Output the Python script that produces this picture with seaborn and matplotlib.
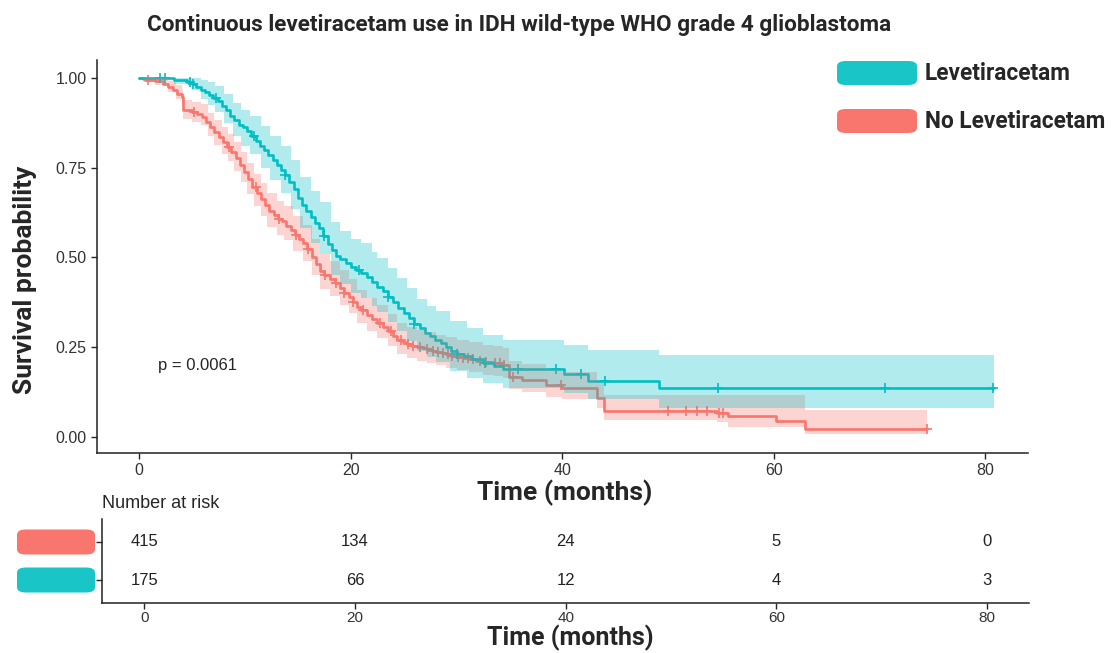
import numpy as np
import matplotlib
matplotlib.use("Agg")
import matplotlib.pyplot as plt
from matplotlib.patches import FancyBboxPatch
import seaborn as sns

# Levetiracetam group: step curve
lev_time = [0, 3.3, 4.5, 5.0, 5.4, 5.8, 6.2, 6.6, 7.0, 7.4, 7.8, 8.2, 8.6, 9.0, 9.4, 9.8, 10.2,
            10.6, 11.0, 11.4, 11.8, 12.2, 12.6, 13.0, 13.4, 13.8, 14.2, 14.6, 15.0, 15.4, 15.8,
            16.2, 16.6, 17.0, 17.4, 17.8, 18.2, 18.6, 19.0, 19.5, 20.0, 20.5, 21.0, 21.5, 22.0,
            22.5, 23.0, 23.5, 24.0, 24.5, 25.0, 25.5, 26.0, 26.5, 27.0, 27.5, 28.0, 28.5, 29.0,
            29.5, 30.0, 30.7, 31.5, 32.5, 33.5, 34.4, 40.2, 42.4, 49.1, 80.8]
lev_surv = [1.0, 0.994, 0.988, 0.982, 0.975, 0.967, 0.96, 0.953, 0.945, 0.935, 0.922, 0.91, 0.895,
            0.882, 0.87, 0.862, 0.852, 0.838, 0.825, 0.81, 0.798, 0.785, 0.772, 0.758, 0.744, 0.728,
            0.71, 0.69, 0.665, 0.645, 0.628, 0.612, 0.597, 0.582, 0.56, 0.538, 0.52, 0.505, 0.495,
            0.485, 0.474, 0.466, 0.457, 0.445, 0.432, 0.418, 0.405, 0.39, 0.375, 0.36, 0.345, 0.33,
            0.315, 0.302, 0.29, 0.28, 0.271, 0.262, 0.25, 0.24, 0.232, 0.225, 0.218, 0.206, 0.197,
            0.189, 0.175, 0.156, 0.136, 0.136]
# Levetiracetam group: 95% band
lev_band_time = [0, 3.3, 5.0, 5.8, 6.5, 7.2, 8.0, 8.9, 9.6, 10.5, 11.5, 12.4, 13.4, 14.3, 15.2, 16.2,
                 17.1, 18.1, 19.0, 20.0, 21.0, 22.0, 22.5, 23.5, 24.4, 25.3, 26.3, 27.2, 28.1, 29.4,
                 31.0, 32.5, 34.4, 40.2, 42.4, 49.1, 80.8]
lev_upper = [1.0, 1.0, 1.0, 0.995, 0.988, 0.976, 0.955, 0.93, 0.91, 0.895, 0.866, 0.838, 0.81, 0.77,
             0.725, 0.685, 0.655, 0.598, 0.573, 0.552, 0.54, 0.515, 0.498, 0.47, 0.442, 0.415, 0.385,
             0.365, 0.35, 0.322, 0.302, 0.285, 0.27, 0.256, 0.242, 0.228, 0.228]
lev_lower = [1.0, 0.982, 0.967, 0.94, 0.924, 0.905, 0.875, 0.838, 0.81, 0.788, 0.75, 0.715, 0.68, 0.635,
             0.583, 0.54, 0.51, 0.452, 0.425, 0.402, 0.388, 0.365, 0.348, 0.32, 0.294, 0.268, 0.24,
             0.222, 0.208, 0.182, 0.165, 0.15, 0.135, 0.122, 0.105, 0.081, 0.081]
lev_censor = [2.0, 2.4, 4.8, 5.1, 7.3, 10.8, 13.8, 17.5, 20.8, 23.5, 26.0, 30.0, 32.7, 35.8,
              39.4, 41.8, 44.0, 54.7, 70.5, 80.7]

# No Levetiracetam group: step curve
nolev_time = [0, 0.5, 1.5, 2.2, 2.7, 3.2, 3.6, 4.0, 4.1, 5.0, 5.5, 5.9, 6.3, 6.7, 7.1, 7.5, 7.9, 8.3,
              8.7, 9.1, 9.5, 9.9, 10.3, 10.7, 11.1, 11.5, 11.9, 12.3, 12.7, 13.1, 13.5, 13.9, 14.3,
              14.7, 15.1, 15.5, 15.9, 16.3, 16.7, 17.1, 17.5, 18.0, 18.5, 19.0, 19.4, 19.8, 20.2,
              20.6, 21.0, 21.5, 22.0, 22.5, 23.0, 23.5, 24.0, 24.4, 24.9, 25.3, 25.8, 26.3, 26.8,
              27.2, 27.7, 28.1, 28.6, 29.0, 29.5, 30.0, 30.6, 31.2, 31.8, 32.5, 33.5, 34.4, 35.0,
              36.2, 38.5, 40.0, 43.3, 43.9, 54.6, 55.7, 60.2, 62.9, 74.5]
nolev_surv = [1.0, 0.995, 0.99, 0.982, 0.975, 0.965, 0.955, 0.947, 0.911, 0.905, 0.9, 0.892, 0.878,
              0.864, 0.848, 0.835, 0.822, 0.808, 0.793, 0.776, 0.757, 0.738, 0.717, 0.695, 0.678,
              0.662, 0.645, 0.628, 0.618, 0.608, 0.6, 0.588, 0.575, 0.562, 0.551, 0.54, 0.522, 0.502,
              0.482, 0.463, 0.45, 0.44, 0.428, 0.415, 0.402, 0.39, 0.376, 0.362, 0.352, 0.34, 0.329,
              0.318, 0.306, 0.295, 0.282, 0.27, 0.263, 0.258, 0.254, 0.251, 0.247, 0.244, 0.24,
              0.237, 0.233, 0.23, 0.226, 0.223, 0.219, 0.216, 0.212, 0.209, 0.205, 0.201, 0.167,
              0.159, 0.145, 0.136, 0.109, 0.072, 0.065, 0.058, 0.045, 0.022, 0.022]
# No Levetiracetam group: 95% band
nolev_band_time = [0, 0.5, 1.5, 2.7, 3.5, 4.0, 4.1, 5.0, 5.8, 6.5, 7.1, 7.8, 8.4, 9.0, 9.6, 10.2, 10.8,
                   11.5, 12.1, 13.0, 13.7, 14.5, 15.5, 16.3, 17.1, 18.0, 19.0, 19.8, 20.6, 21.5, 22.5,
                   23.5, 24.4, 25.3, 26.3, 27.2, 28.1, 29.0, 30.0, 31.2, 32.5, 33.5, 34.4, 35.0, 36.2,
                   38.5, 40.0, 43.3, 43.9, 54.6, 55.7, 60.2, 62.9, 74.5]
nolev_upper = [1.0, 1.0, 0.999, 0.99, 0.979, 0.968, 0.939, 0.933, 0.926, 0.903, 0.882, 0.862, 0.843,
               0.82, 0.794, 0.764, 0.733, 0.706, 0.679, 0.658, 0.643, 0.616, 0.589, 0.55, 0.51, 0.49,
               0.465, 0.44, 0.41, 0.388, 0.366, 0.343, 0.318, 0.305, 0.298, 0.291, 0.284, 0.277,
               0.27, 0.263, 0.256, 0.252, 0.248, 0.212, 0.204, 0.19, 0.18, 0.15, 0.117, 0.117,
               0.117, 0.117, 0.075, 0.075]
nolev_lower = [1.0, 0.988, 0.98, 0.96, 0.941, 0.926, 0.884, 0.877, 0.868, 0.838, 0.812, 0.788, 0.767,
               0.74, 0.71, 0.676, 0.643, 0.614, 0.585, 0.562, 0.547, 0.518, 0.491, 0.451, 0.412,
               0.392, 0.368, 0.344, 0.317, 0.296, 0.275, 0.254, 0.23, 0.219, 0.212, 0.206, 0.199,
               0.193, 0.186, 0.18, 0.173, 0.169, 0.165, 0.132, 0.125, 0.112, 0.104, 0.08, 0.047,
               0.04, 0.028, 0.028, 0.008, 0.008]
nolev_censor = [0.8, 5.2, 8.5, 11.0, 13.2, 14.8, 16.0, 17.6, 18.6, 19.4, 20.2, 21.2, 22.8, 23.8,
                24.7, 25.4, 25.9, 26.5, 27.2, 27.8, 28.2, 28.7, 29.2, 29.6, 30.1, 30.6, 31.1, 31.6,
                32.2, 32.8, 33.6, 34.1, 34.5, 35.3, 39.9, 50.0, 51.7, 52.7, 53.7, 54.8, 55.2, 74.5]

risk_times = [0, 20, 40, 60, 80]
risk_nolev = [415, 134, 24, 5, 0]
risk_lev = [175, 66, 12, 4, 3]

group_labels = ["Levetiracetam", "No Levetiracetam"]
lev_color = "#00BFC4"
nolev_color = "#F8766D"
key_cyan = "#19C5C7"

sns.set_theme(style="ticks")
plt.rcParams["font.family"] = ["Liberation Sans", "DejaVu Sans"]

fig = plt.figure(figsize=(11.12, 6.53), dpi=100)
ax = fig.add_axes([0.0872, 0.3063, 0.837, 0.602])
ax2 = fig.add_axes([0.0917, 0.0766, 0.834, 0.1286])

groups = [
    (nolev_time, nolev_surv, nolev_band_time, nolev_lower, nolev_upper, nolev_censor, nolev_color),
    (lev_time, lev_surv, lev_band_time, lev_lower, lev_upper, lev_censor, lev_color),
]
for t, s, bt, lo, hi, cens, col in groups:
    sns.lineplot(x=t, y=s, ax=ax, color=col, lw=1.9, drawstyle="steps-post",
                 estimator=None, sort=False, zorder=2)
    ax.fill_between(bt, lo, hi, step="post", color=col, alpha=0.3, lw=0, zorder=3)
    idx = np.searchsorted(t, cens, side="right") - 1
    cy = np.array(s)[idx]
    ax.plot(cens, cy, ls="none", marker="+", ms=7, mew=1.2, color=col, zorder=2)

ax.set_xlim(-4, 84)
ax.set_ylim(-0.045, 1.05)
ax.set_xticks([0, 20, 40, 60, 80])
ax.set_yticks([0, 0.25, 0.5, 0.75, 1.0])
ax.set_yticklabels(["0.00", "0.25", "0.50", "0.75", "1.00"])
ax.tick_params(labelsize=11.5, labelcolor="#333333", length=4, width=1)
sns.despine(ax=ax)
for sp in ["left", "bottom"]:
    ax.spines[sp].set_linewidth(1.1)
    ax.spines[sp].set_color("#222222")

ax.set_xlabel("Time (months)", fontsize=19, fontweight="bold", family="Roboto")
ax.xaxis.set_label_coords(0.503, -0.068)
ax.set_ylabel("Survival probability", fontsize=19, fontweight="bold", family="Roboto")
ax.yaxis.set_label_coords(-0.064, 0.44)
ax.text(1.8, 0.2, "p = 0.0061", fontsize=12, va="center", ha="left")

fig.text(0.467, 0.962, "Continuous levetiracetam use in IDH wild-type WHO grade 4 glioblastoma",
         ha="center", va="center", fontsize=16.2, fontweight="bold", family="Roboto")

# legend drawn as rounded keys
for y_px, col, lab in [(73, key_cyan, group_labels[0]), (121, nolev_color, group_labels[1])]:
    fig.patches.append(FancyBboxPatch((837 / 1112, 1 - (y_px + 12) / 653), 80 / 1112, 24 / 653,
                                      boxstyle="round,pad=0,rounding_size=0.008",
                                      transform=fig.transFigure, color=col, lw=0))
    fig.text(925 / 1112, 1 - y_px / 653, lab, fontsize=16.3, fontweight="bold",
             family="Roboto", va="center", ha="left")

# risk table
for n_row, counts in [(2, risk_nolev), (1, risk_lev)]:
    for t, n in zip(risk_times, counts):
        ax2.text(t, n_row, str(n), ha="center", va="center", fontsize=12, color="#222222")
ax2.set_xlim(-4, 84)
ax2.set_ylim(0.4, 2.6)
ax2.set_xticks([0, 20, 40, 60, 80])
ax2.set_yticks([1, 2])
ax2.set_yticklabels(["", ""])
ax2.tick_params(labelsize=11, labelcolor="#333333", length=4, width=1, pad=2)
sns.despine(ax=ax2)
for sp in ["left", "bottom"]:
    ax2.spines[sp].set_linewidth(1.1)
    ax2.spines[sp].set_color("#222222")
ax2.set_xlabel("Time (months)", fontsize=18, fontweight="bold", family="Roboto")
ax2.xaxis.set_label_coords(0.505, -0.255)
ax2.text(0.0, 1.18, "Number at risk", transform=ax2.transAxes, fontsize=13, ha="left", va="center")

for y_px, col in [(542, nolev_color), (580, key_cyan)]:
    fig.patches.append(FancyBboxPatch((17 / 1112, 1 - (y_px + 12.5) / 653), 78 / 1112, 25 / 653,
                                      boxstyle="round,pad=0,rounding_size=0.008",
                                      transform=fig.transFigure, color=col, lw=0))

fig.savefig("out.png", dpi=100)
